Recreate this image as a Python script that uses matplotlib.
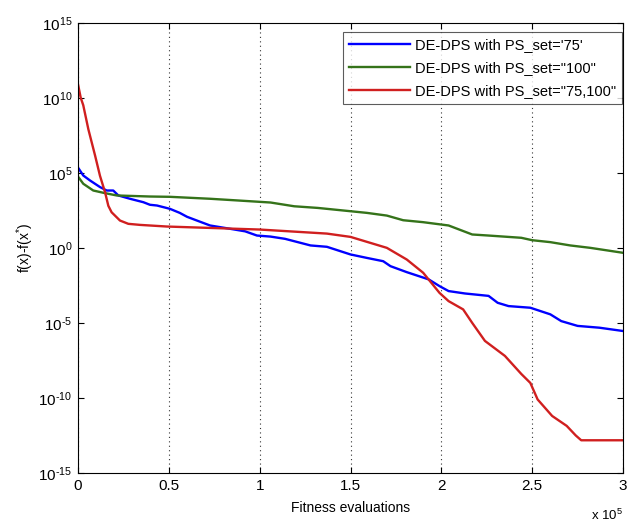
import matplotlib
matplotlib.use("Agg")
import matplotlib.pyplot as plt
import numpy as np
from matplotlib.ticker import FixedLocator, FuncFormatter

plt.rcParams['font.family'] = ['Liberation Sans', 'DejaVu Sans']
plt.rcParams['mathtext.fontset'] = 'custom'
plt.rcParams['mathtext.rm'] = 'Liberation Sans'
plt.rcParams['mathtext.it'] = 'Liberation Sans'

# Data (x in fitness evaluations, y as log10 of f(x)-f(x*))
blue_x = [0, 2.9e3, 6.6e3, 1.21e4, 1.58e4, 1.94e4, 2.22e4, 2.86e4, 3.6e4, 3.96e4, 4.35e4,
          5.06e4, 5.6e4, 6.0e4, 6.5e4, 7.27e4, 8.37e4, 9.2e4, 9.85e4, 1.06e5, 1.14e5, 1.28e5,
          1.37e5, 1.5e5, 1.59e5, 1.68e5, 1.72e5, 1.81e5, 1.93e5, 1.99e5, 2.04e5, 2.13e5,
          2.26e5, 2.31e5, 2.37e5, 2.49e5, 2.6e5, 2.66e5, 2.75e5, 2.87e5, 3.0e5]
blue_log = [5.35, 4.82, 4.49, 4.05, 3.82, 3.82, 3.49, 3.27, 3.04, 2.87, 2.82,
            2.6, 2.33, 2.07, 1.84, 1.49, 1.27, 1.1, 0.82, 0.75, 0.6, 0.16,
            0.07, -0.44, -0.67, -0.89, -1.22, -1.62, -2.1, -2.55, -2.88, -3.04,
            -3.2, -3.66, -3.88, -3.99, -4.43, -4.88, -5.2, -5.32, -5.54]

green_x = [0, 2.9e3, 8.4e3, 1.39e4, 2.13e4, 3.96e4, 5.06e4, 7.27e4, 8.75e4, 1.06e5, 1.19e5,
           1.32e5, 1.5e5, 1.59e5, 1.7e5, 1.79e5, 1.9e5, 2.04e5, 2.17e5, 2.26e5, 2.44e5,
           2.5e5, 2.6e5, 2.71e5, 2.82e5, 3.0e5]
green_log = [4.75, 4.27, 3.82, 3.67, 3.49, 3.42, 3.4, 3.27, 3.16, 3.02, 2.77,
             2.66, 2.44, 2.33, 2.15, 1.84, 1.71, 1.49, 0.89, 0.82, 0.67,
             0.51, 0.38, 0.16, 0.0, -0.33]

red_x = [0, 1.5e3, 2.9e3, 5.7e3, 9.4e3, 1.21e4, 1.49e4, 1.67e4, 1.85e4, 2.31e4, 2.77e4,
         3.41e4, 4.9e4, 1.0e5, 1.37e5, 1.5e5, 1.7e5, 1.81e5, 1.9e5, 1.99e5, 2.04e5,
         2.12e5, 2.17e5, 2.24e5, 2.35e5, 2.44e5, 2.49e5, 2.53e5, 2.61e5, 2.69e5, 2.74e5,
         2.77e5, 3.0e5]
red_log = [10.9, 10.0, 9.5, 7.9, 6.15, 4.8, 3.7, 2.8, 2.37, 1.82, 1.6,
           1.53, 1.42, 1.22, 0.95, 0.73, 0.0, -0.78, -1.66, -3.0, -3.55,
           -4.1, -5.0, -6.2, -7.2, -8.4, -9.0, -10.1, -11.2, -11.86, -12.5,
           -12.82, -12.82]

labels = ["DE-DPS with PS_set='75'", 'DE-DPS with PS_set="100"', 'DE-DPS with PS_set="75,100"']
colors = ['#0000ff', '#35731a', '#d01f1f']

xticks = [0, 0.5e5, 1e5, 1.5e5, 2e5, 2.5e5, 3e5]
xticklabels = ['0', '0.5', '1', '1.5', '2', '2.5', '3']
yexps = [15, 10, 5, 0, -5, -10, -15]

fig = plt.figure(figsize=(6.39, 5.23), dpi=100)
ax = fig.add_axes([78/639, 50/523, 545/639, 450.3/523])

for xs, ls, c, lab in [(blue_x, blue_log, colors[0], labels[0]),
                       (green_x, green_log, colors[1], labels[1]),
                       (red_x, red_log, colors[2], labels[2])]:
    ax.plot(xs, 10.0 ** np.array(ls), color=c, lw=1.7, label=lab)


def ylab(v, p):
    e = int(round(np.log10(v)))
    if e < 0:
        return r'$10^{\text{-}%d}$' % (-e)
    return r'$10^{%d}$' % e


ax.set_yscale('log')
ax.set_xlim(0, 3e5)
ax.set_ylim(1e-15, 1e15)
ax.xaxis.set_major_locator(FixedLocator(xticks))
ax.set_xticklabels(xticklabels)
ax.yaxis.set_major_locator(FixedLocator([10.0 ** e for e in yexps]))
ax.yaxis.set_minor_locator(FixedLocator([]))
ax.yaxis.set_major_formatter(FuncFormatter(ylab))
ax.tick_params(direction='in', top=True, right=True, length=4, width=0.8, labelsize=11,
               colors='black', pad=4)
ax.tick_params(axis='y', labelsize=11)
ax.grid(True, axis='x', linestyle=(0, (1, 3)), color='#333333', lw=0.8)
for s in ax.spines.values():
    s.set_linewidth(0.8)

ax.set_xlabel('Fitness evaluations', fontsize=10, labelpad=6)
ax.set_ylabel(r'f(x)-f(x$^{*}$)', fontsize=10, labelpad=2)
ax.text(1.0, -0.078, r'x 10$^{5}$', transform=ax.transAxes, ha='right', va='top', fontsize=9.5)

leg = ax.legend(loc='upper right', bbox_to_anchor=(0.999, 0.979), fontsize=10.5, frameon=True,
                fancybox=False, edgecolor='#333333', borderaxespad=0.0, handlelength=4.2,
                borderpad=0.4, labelspacing=0.62, handletextpad=0.35)
leg.get_frame().set_linewidth(0.8)

fig.savefig('out.png', dpi=100)
